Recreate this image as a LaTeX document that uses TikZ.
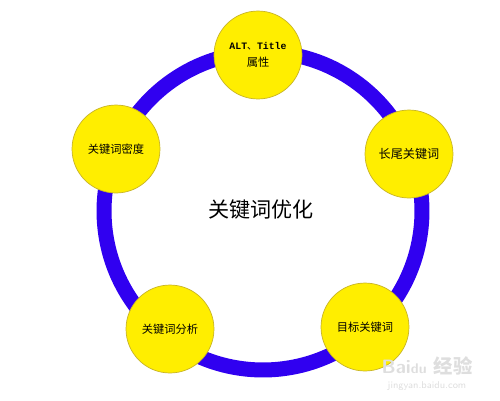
\documentclass[tikz,border=0pt]{standalone}
\usepackage{fontspec}
\newfontfamily\cjk{Noto Sans CJK SC}
\newfontfamily\latinmono{Liberation Mono}
\usetikzlibrary{positioning}
\definecolor{ringblue}{RGB}{48,0,240}
\definecolor{topicyellow}{RGB}{255,238,0}
\definecolor{topicrim}{RGB}{200,180,40}
\tikzset{
    x=0.02cm, y=-0.02cm, % one unit is one pixel of the 500x400 picture
    every node/.style={font=\cjk}, % all texts in the CJK sans
}

\begin{document}
\begin{tikzpicture}[
                    topic/.style={circle, draw=topicrim, line width=0.4pt, fill=topicyellow,
                                  minimum size=1.76cm, inner sep=0pt, align=center,
                                  font=\cjk\fontsize{6.4}{9}\selectfont},
                    ring/.style={draw=ringblue, line width=0.3cm},
                    watermark/.style={text=black!13, inner sep=0pt},
                ]
                \useasboundingbox (0,0) rectangle (500,400);
                \node[font=\cjk\fontsize{12}{14}\selectfont] (hub) at (261,210) {关键词优化};
                \draw[ring] (263,211) circle (3.18cm);
                \node[topic] (alt) at (258,55) {{\latinmono\bfseries\fontsize{5.6}{7}\selectfont ALT}{\fontsize{5.6}{7}\selectfont 、}{\latinmono\bfseries\fontsize{5.6}{7}\selectfont Title}\\[1pt]属性};
                \node[topic, font=\cjk\fontsize{6.9}{9}\selectfont] (tail) at (409,154) {长尾关键词};
                \node[topic] (target) at (365,327) {目标关键词};
                \node[topic] (analysis) at (170,329) {关键词分析};
                \node[topic] (density) at (116,149) {关键词密度};
                % site watermark, lower right
                \node[watermark, font=\sffamily\bfseries\fontsize{11}{12}\selectfont] (wmlogo) at (427,366) {Bai{\fontsize{8}{9}\selectfont du} {\cjk 经验}};
                \node[watermark, font=\sffamily\fontsize{5.6}{7}\selectfont, below=3pt of wmlogo] (wmsite) {jingyan.baidu.com};
            \end{tikzpicture}
\end{document}
